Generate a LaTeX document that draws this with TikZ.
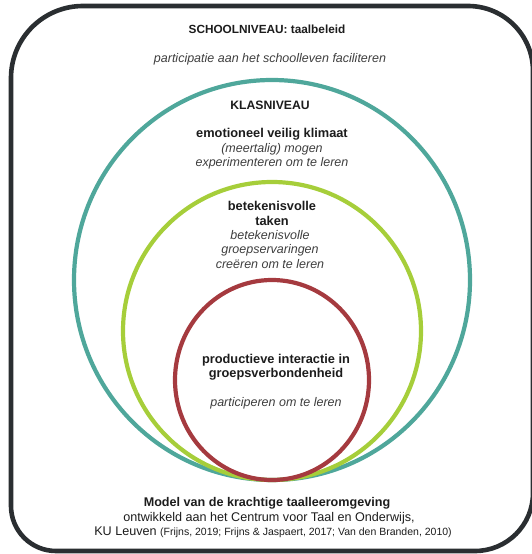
\documentclass[tikz,border=0pt]{standalone}
\usepackage{fontspec}
\setmainfont{Liberation Sans}
\definecolor{frame}{HTML}{2A2E31}
\definecolor{teal}{HTML}{4FA79B}
\definecolor{lime}{HTML}{A6CE3A}
\definecolor{wine}{HTML}{A53A3F}
\definecolor{txt}{HTML}{1C1C1C}
\definecolor{itxt}{HTML}{3E3E3E}
\tikzset{
  ttl/.style={font=\fontsize{12.8}{14.5}\selectfont\bfseries, text=txt, align=center, inner sep=1pt},
  sub/.style={font=\fontsize{12.5}{14.5}\selectfont\itshape, text=itxt, align=center, inner sep=1pt},
  foot/.style={font=\fontsize{12.6}{14.5}\selectfont, text=txt, align=center, inner sep=1pt},
  ring/.style={line width=4.2pt}
}
\begin{document}
\begin{tikzpicture}[x=1pt,y=1pt]
\useasboundingbox (0,0) rectangle (531,554);
% outer frame
\draw[line width=4.6pt, color=frame]
  (11,48) -- (11,476) arc[start angle=180,end angle=90,radius=72]
  -- (468,548) arc[start angle=90,end angle=0,radius=65]
  -- (533,61) arc[start angle=0,end angle=-90,radius=58]
  -- (56,3) arc[start angle=270,end angle=180,radius=45] -- cycle;
% rings
\draw[ring, teal] (272,274) ellipse[x radius=198, y radius=200];
\draw[ring, lime] (272,223) circle[radius=149];
\draw[ring, wine] (272,174) ellipse[x radius=97, y radius=100];
% texts
\node[ttl, font=\fontsize{11.8}{14.5}\selectfont\bfseries] (school) at (267,525) {SCHOOLNIVEAU: taalbeleid};
\node[sub] (schoolsub) at (270,495) {participatie aan het schoolleven faciliteren};
\node[ttl, font=\fontsize{12.2}{14.5}\selectfont\bfseries] (klas) at (270,449) {KLASNIVEAU};
\node[ttl] (emo) at (272,420) {emotioneel veilig klimaat};
\node[sub] (emosub) at (272,397.5) {(meertalig) mogen\\experimenteren om te leren};
\node[ttl] (taken) at (272,340.5) {betekenisvolle\\taken};
\node[sub] (takensub) at (270,304.5) {betekenisvolle\\groepservaringen\\creëren om te leren};
\node[ttl] (inter) at (276,187) {productieve interactie in\\groepsverbondenheid};
\node[sub] (intersub) at (276,150.5) {participeren om te leren};
\node[foot, font=\fontsize{12.6}{14.5}\selectfont\bfseries] (model) at (267,50.5) {Model van de krachtige taalleeromgeving};
\node[foot] (dev) at (269,35.5) {ontwikkeld aan het Centrum voor Taal en Onderwijs,};
\node[foot] (ku) at (273,21.5) {KU Leuven {\fontsize{10.5}{12}\selectfont (Frijns, 2019; Frijns \& Jaspaert, 2017; Van den Branden, 2010)}};
\end{tikzpicture}
\end{document}
